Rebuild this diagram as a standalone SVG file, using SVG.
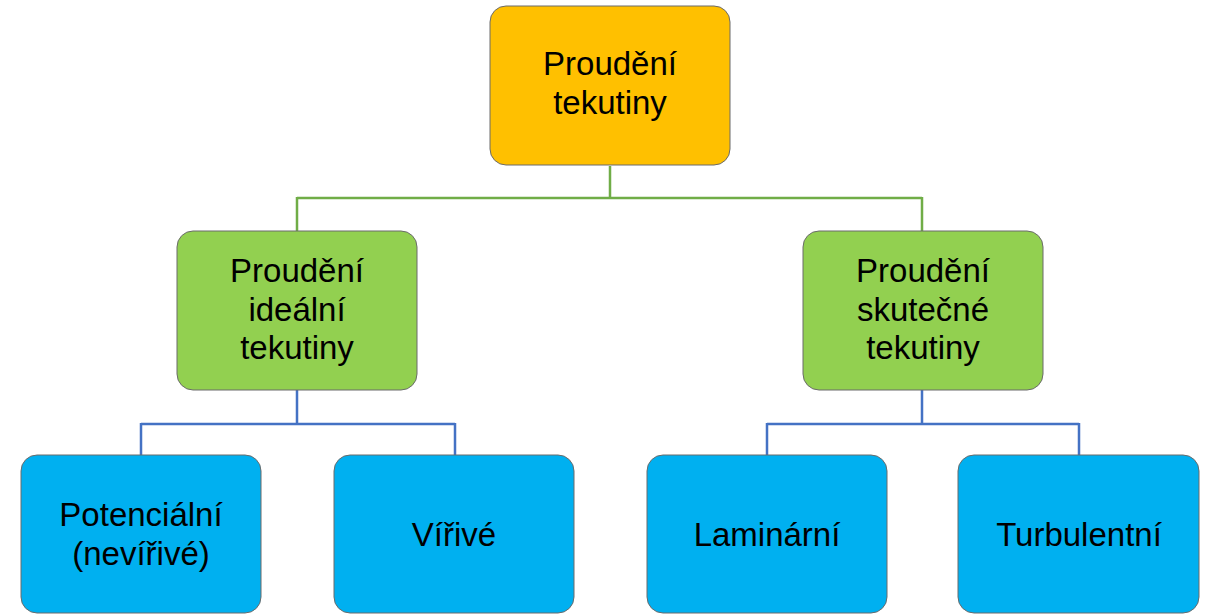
<svg xmlns="http://www.w3.org/2000/svg" width="1207" height="614" viewBox="0 0 1207 614">
<style>
.box{stroke:#6b6b6b;stroke-width:1}
.top{fill:#FFC000}
.grn{fill:#92D050}
.blu{fill:#00B0F0}
text{font-family:"Liberation Sans",Arial,sans-serif;font-size:33px;fill:#000;text-anchor:middle}
.cg{fill:none;stroke:#70AD47;stroke-width:2.5}
.cb{fill:none;stroke:#4472C4;stroke-width:2.5}
</style>
<rect width="1207" height="614" fill="#fff"/>
<g id="connectors">
<path class="cg" d="M610 166V198M297 198H922M297 197V231M922 197V231"/>
<path class="cb" d="M297 390V424M141 424H455M141 423V455M455 423V455"/>
<path class="cb" d="M922 390V424M767 424H1079M767 423V455M1079 423V455"/>
</g>
<g id="n0"><rect class="box top" x="490" y="6" width="240" height="159" rx="16"/>
<text x="610" y="75">Proudění</text><text x="610" y="114">tekutiny</text></g>
<g id="n1"><rect class="box grn" x="177" y="231" width="240" height="159" rx="16"/>
<text x="297" y="282">Proudění</text><text x="297" y="321">ideální</text><text x="297" y="359">tekutiny</text></g>
<g id="n2"><rect class="box grn" x="803" y="231" width="240" height="159" rx="16"/>
<text x="923" y="282">Proudění</text><text x="923" y="321">skutečné</text><text x="923" y="359">tekutiny</text></g>
<g id="n3"><rect class="box blu" x="21" y="455" width="240" height="158" rx="16"/>
<text x="141" y="526">Potenciální</text><text x="141" y="565">(nevířivé)</text></g>
<g id="n4"><rect class="box blu" x="334" y="455" width="240" height="158" rx="16"/>
<text x="454" y="546">Vířivé</text></g>
<g id="n5"><rect class="box blu" x="647" y="455" width="240" height="158" rx="16"/>
<text x="767" y="546">Laminární</text></g>
<g id="n6"><rect class="box blu" x="958" y="455" width="241" height="158" rx="16"/>
<text x="1079" y="546">Turbulentní</text></g>
</svg>
